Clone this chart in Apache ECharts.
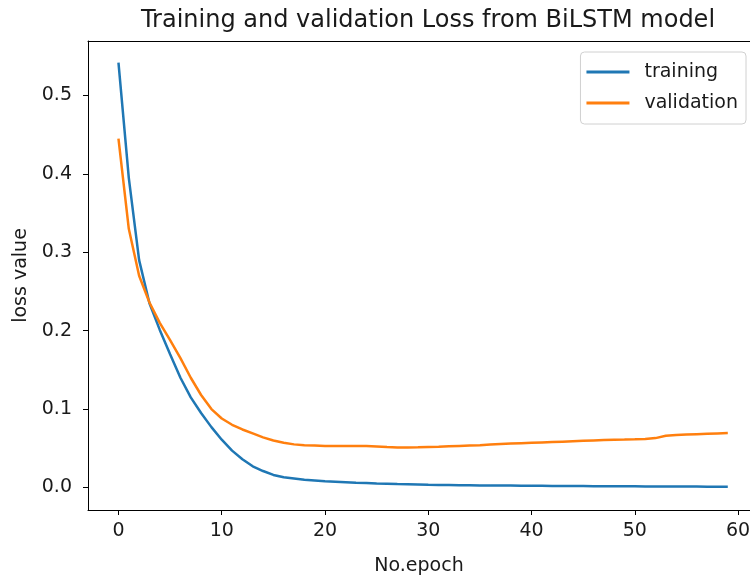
<!DOCTYPE html>
<html>
<head>
<meta charset="utf-8">
<script src="https://cdn.jsdelivr.net/npm/echarts@6/dist/echarts.min.js"></script>
<style>
  html, body { margin: 0; padding: 0; background: #fff; }
  #chart { width: 750px; height: 580px; }
</style>
</head>
<body>
<div id="chart"></div>
<script>
// loss per epoch
const epochs = Array.from({ length: 60 }, (_, i) => i)
const trainingLoss = [
  0.542, 0.395, 0.290, 0.235, 0.201, 0.170, 0.140, 0.115, 0.095, 0.077,
  0.061, 0.047, 0.036, 0.027, 0.021, 0.016, 0.013, 0.0115, 0.0100, 0.0090,
  0.0080, 0.0074, 0.0068, 0.0062, 0.0057, 0.0052, 0.0048, 0.0044, 0.0041, 0.0038,
  0.0035, 0.0033, 0.0031, 0.0029, 0.0028, 0.0027, 0.0026, 0.0025, 0.0024, 0.0023,
  0.0022, 0.0021, 0.0020, 0.0019, 0.0019, 0.0018, 0.0017, 0.0017, 0.0016, 0.0015,
  0.0015, 0.0014, 0.0014, 0.0013, 0.0013, 0.0012, 0.0012, 0.0011, 0.0011, 0.0010
]
const validationLoss = [
  0.445, 0.330, 0.270, 0.236, 0.210, 0.188, 0.165, 0.140, 0.118, 0.100,
  0.088, 0.080, 0.074, 0.069, 0.064, 0.060, 0.057, 0.055, 0.054, 0.0535,
  0.053, 0.053, 0.053, 0.053, 0.0528, 0.0522, 0.0515, 0.051, 0.051, 0.0513,
  0.0517, 0.052, 0.0525, 0.053, 0.0535, 0.054, 0.0548, 0.0555, 0.056, 0.0565,
  0.057, 0.0575, 0.058, 0.0585, 0.059, 0.0595, 0.060, 0.0605, 0.061, 0.0612,
  0.0615, 0.062, 0.063, 0.066, 0.067, 0.0675, 0.068, 0.0685, 0.069, 0.0695
]
const xTicks = [0, 10, 20, 30, 40, 50, 60]
const yTicks = [0, 0.1, 0.2, 0.3, 0.4, 0.5]

const font = 'DejaVu Sans'
const ink = '#1a1a1a'

const chart = echarts.init(document.getElementById('chart'))

const option = {
  animation: false,
  title: {
    text: 'Training and validation Loss from BiLSTM model',
    left: 423,
    top: 4,
    textAlign: 'center',
    textStyle: { fontFamily: font, fontSize: 24, fontWeight: 'normal', color: ink }
  },
  legend: {
    orient: 'vertical',
    right: 4,
    top: 52,
    data: ['training', 'validation'],
    icon: 'rect',
    itemWidth: 43,
    itemHeight: 3,
    itemGap: 7,
    padding: [8, 8, 9, 6],
    borderColor: '#d0d0d0',
    borderWidth: 1,
    borderRadius: 4,
    textStyle: { fontFamily: font, fontSize: 19, color: ink, lineHeight: 24, padding: [0, 0, 0, 10] }
  },
  grid: {
    left: 88,
    right: 0,
    top: 41,
    bottom: 70,
    outerBoundsMode: 'none'
  },
  xAxis: [
    {
      type: 'value',
      min: -2.95,
      max: 61.15,
      name: 'No.epoch',
      nameLocation: 'middle',
      nameGap: 47,
      nameTextStyle: { fontFamily: font, fontSize: 19, color: ink },
      axisLine: { show: true, onZero: false, lineStyle: { color: '#000', width: 1 } },
      axisTick: { show: true, length: 5, customValues: xTicks, lineStyle: { color: '#000' } },
      axisLabel: { customValues: xTicks, margin: 12, fontFamily: font, fontSize: 19, color: ink },
      splitLine: { show: false }
    },
    {
      // top spine only
      type: 'value',
      position: 'top',
      min: -2.95,
      max: 61.15,
      axisLine: { show: true, onZero: false, lineStyle: { color: '#000', width: 1 } },
      axisTick: { show: false },
      axisLabel: { show: false },
      splitLine: { show: false }
    }
  ],
  yAxis: {
    type: 'value',
    min: -0.0287,
    max: 0.5695,
    name: 'loss value',
    nameLocation: 'middle',
    nameRotate: 90,
    nameGap: 57,
    nameTextStyle: { fontFamily: font, fontSize: 19, color: ink },
    axisLine: { show: true, onZero: false, lineStyle: { color: '#000', width: 1 } },
    axisTick: { show: true, length: 5, customValues: yTicks, lineStyle: { color: '#000' } },
    axisLabel: {
      customValues: yTicks,
      margin: 16,
      fontFamily: font,
      fontSize: 19,
      color: ink,
      formatter: v => v.toFixed(1)
    },
    splitLine: { show: false }
  },
  series: [
    {
      name: 'training',
      type: 'line',
      data: epochs.map((e, i) => [e, trainingLoss[i]]),
      showSymbol: false,
      color: '#1f77b4',
      lineStyle: { width: 2.5, color: '#1f77b4' }
    },
    {
      name: 'validation',
      type: 'line',
      data: epochs.map((e, i) => [e, validationLoss[i]]),
      showSymbol: false,
      color: '#ff7f0e',
      lineStyle: { width: 2.5, color: '#ff7f0e' }
    }
  ]
}

chart.setOption(option)
</script>
</body>
</html>
